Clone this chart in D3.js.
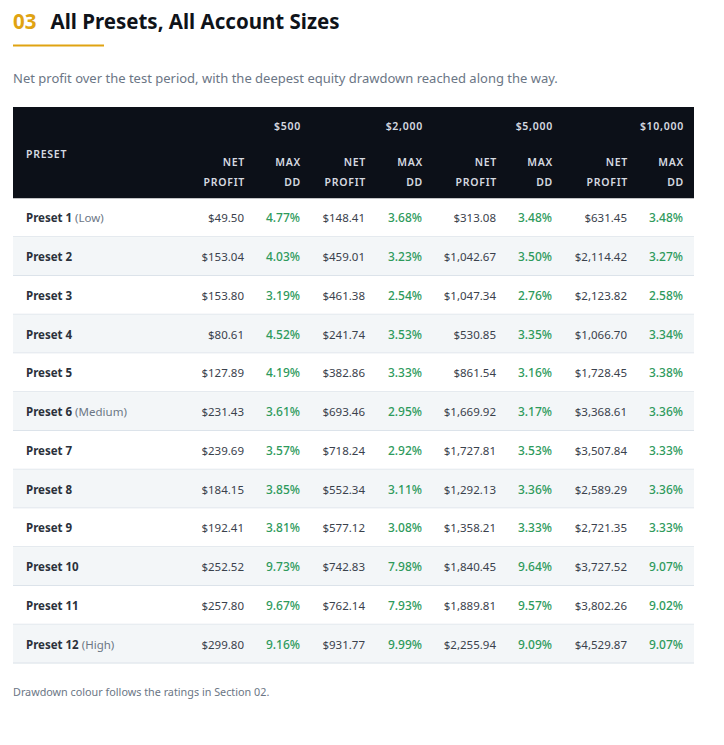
<!DOCTYPE html>
<html>
<head>
<meta charset="utf-8">
<script src="https://cdn.jsdelivr.net/npm/d3@7"></script>
<style>
  body { margin: 0; background: #fff; }
  svg { display: block; font-family: "Noto Sans", "Open Sans", sans-serif; }
</style>
</head>
<body>
<div id="chart"></div>
<script>
// data
let presets = ["Preset 1", "Preset 2", "Preset 3", "Preset 4", "Preset 5", "Preset 6",
    "Preset 7", "Preset 8", "Preset 9", "Preset 10", "Preset 11", "Preset 12"]
let presetTags = ["Low", "", "", "", "", "Medium", "", "", "", "", "", "High"]
let accounts = ["$500", "$2,000", "$5,000", "$10,000"]

let profit500 = [49.50, 153.04, 153.80, 80.61, 127.89, 231.43, 239.69, 184.15, 192.41, 252.52, 257.80, 299.80]
let dd500 = [4.77, 4.03, 3.19, 4.52, 4.19, 3.61, 3.57, 3.85, 3.81, 9.73, 9.67, 9.16]
let profit2000 = [148.41, 459.01, 461.38, 241.74, 382.86, 693.46, 718.24, 552.34, 577.12, 742.83, 762.14, 931.77]
let dd2000 = [3.68, 3.23, 2.54, 3.53, 3.33, 2.95, 2.92, 3.11, 3.08, 7.98, 7.93, 9.99]
let profit5000 = [313.08, 1042.67, 1047.34, 530.85, 861.54, 1669.92, 1727.81, 1292.13, 1358.21, 1840.45, 1889.81, 2255.94]
let dd5000 = [3.48, 3.50, 2.76, 3.35, 3.16, 3.17, 3.53, 3.36, 3.33, 9.64, 9.57, 9.09]
let profit10000 = [631.45, 2114.42, 2123.82, 1066.70, 1728.45, 3368.61, 3507.84, 2589.29, 2721.35, 3727.52, 3802.26, 4529.87]
let dd10000 = [3.48, 3.27, 2.58, 3.34, 3.38, 3.36, 3.33, 3.36, 3.33, 9.07, 9.02, 9.07]

let profits = [profit500, profit2000, profit5000, profit10000]
let drawdowns = [dd500, dd2000, dd5000, dd10000]

// layout
let width = 724, height = 745
let tableLeft = 13, tableRight = 694
let headTop = 107, headBottom = 198.5, bodyBottom = 663.5

let colKeys = []
accounts.forEach(function (a, i) { colKeys.push("p" + i); colKeys.push("d" + i) })
let x = d3.scaleOrdinal()
    .domain(colKeys)
    .range([244, 300, 365, 422, 496, 552, 627, 683])

let y = d3.scaleBand()
    .domain(presets)
    .range([headBottom, bodyBottom])

let money = d3.format("$,.2f")
let pct = function (v) { return d3.format(".2f")(v) + "%" }

let svg = d3.select("#chart").append("svg")
    .attr("width", width)
    .attr("height", height)

// title
let title = svg.append("text")
    .attr("x", 13)
    .attr("y", 29)
    .style("font-size", "20.5px")
    .style("font-weight", 700)
title.append("tspan").attr("fill", "#e0a312").text("03")
title.append("tspan").attr("dx", 14).attr("fill", "#0f1319").text("All Presets, All Account Sizes")

svg.append("rect")
    .attr("x", 13).attr("y", 44.5)
    .attr("width", 91).attr("height", 2)
    .attr("fill", "#e0a312")

svg.append("text")
    .attr("x", 13)
    .attr("y", 83)
    .attr("fill", "#6b7685")
    .style("font-size", "13px")
    .text("Net profit over the test period, with the deepest equity drawdown reached along the way.")

// header
svg.append("rect")
    .attr("x", tableLeft).attr("y", headTop)
    .attr("width", tableRight - tableLeft).attr("height", headBottom - headTop)
    .attr("fill", "#0c1018")

let head = svg.append("g")
    .attr("fill", "#d6dae0")
    .style("font-size", "10.5px")
    .style("font-weight", 600)
    .style("letter-spacing", "0.07em")

head.append("text").attr("x", 26).attr("y", 158).text("PRESET")

head.selectAll(".acct")
    .data(accounts)
    .join("text")
    .attr("class", "acct")
    .attr("x", function (d, i) { return x("d" + i) + 1 })
    .attr("y", 130)
    .attr("text-anchor", "end")
    .text(function (d) { return d })

accounts.forEach(function (a, i) {
    let lines = [["p" + i, "NET", "PROFIT"], ["d" + i, "MAX", "DD"]]
    lines.forEach(function (l) {
        head.append("text").attr("x", x(l[0]) + 1).attr("y", 166).attr("text-anchor", "end").text(l[1])
        head.append("text").attr("x", x(l[0]) + 1).attr("y", 186).attr("text-anchor", "end").text(l[2])
    })
})

// body rows
let rows = svg.append("g").selectAll("g")
    .data(presets)
    .join("g")
    .attr("transform", function (d) { return "translate(0," + y(d) + ")" })

rows.append("rect")
    .attr("x", tableLeft)
    .attr("width", tableRight - tableLeft)
    .attr("height", y.bandwidth())
    .attr("fill", function (d, i) { return i % 2 ? "#f3f6f8" : "#ffffff" })

rows.append("line")
    .attr("x1", tableLeft).attr("x2", tableRight)
    .attr("y1", y.bandwidth() - 0.5).attr("y2", y.bandwidth() - 0.5)
    .attr("stroke", "#dce3ea")

let baseY = y.bandwidth() / 2 + 4.5

let name = rows.append("text")
    .attr("x", 26)
    .attr("y", baseY)
    .style("font-size", "11.5px")
name.append("tspan")
    .attr("fill", "#2b313b")
    .style("font-weight", 700)
    .text(function (d) { return d })
name.append("tspan")
    .attr("fill", "#6b7685")
    .text(function (d, i) { return presetTags[i] ? " (" + presetTags[i] + ")" : "" })

accounts.forEach(function (a, c) {
    rows.append("text")
        .attr("x", x("p" + c))
        .attr("y", baseY)
        .attr("text-anchor", "end")
        .attr("fill", "#3a414c")
        .style("font-size", "11.5px")
        .text(function (d, i) { return money(profits[c][i]) })
    rows.append("text")
        .attr("x", x("d" + c))
        .attr("y", baseY)
        .attr("text-anchor", "end")
        .attr("fill", "#2e9a5c")
        .style("font-size", "12px")
        .style("font-weight", 500)
        .text(function (d, i) { return pct(drawdowns[c][i]) })
})

// footnote
svg.append("text")
    .attr("x", 13)
    .attr("y", 696)
    .attr("fill", "#6b7685")
    .style("font-size", "10.8px")
    .text("Drawdown colour follows the ratings in Section 02.")
</script>
</body>
</html>
